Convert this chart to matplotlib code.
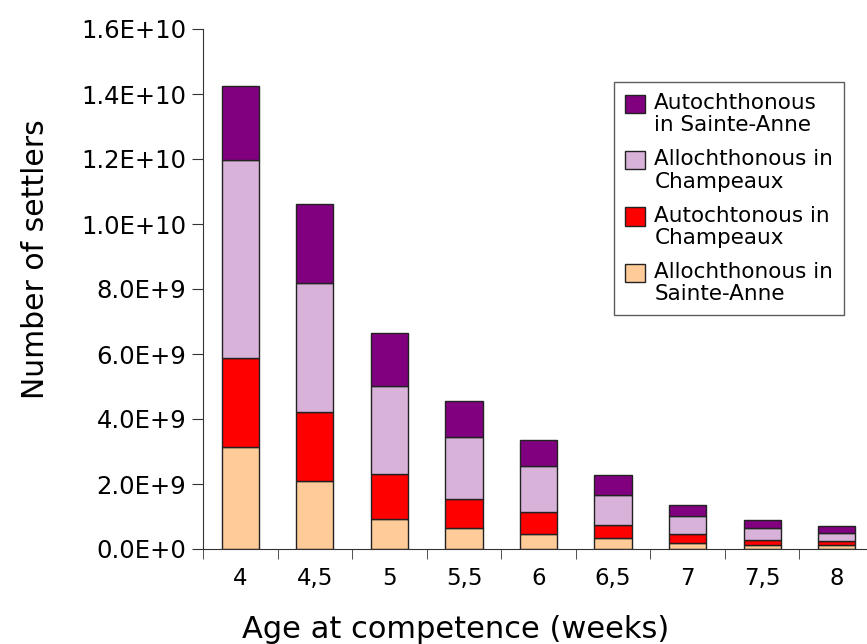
import numpy as np
import matplotlib.pyplot as plt
from matplotlib.ticker import FuncFormatter
from matplotlib.patches import Patch, Rectangle
from matplotlib.legend_handler import HandlerPatch

ages = ["4", "4,5", "5", "5,5", "6", "6,5", "7", "7,5", "8"]

# values in units of 1E9 settlers, stacked bottom to top
allo_sa = [3.14, 2.09, 0.92, 0.65, 0.46, 0.34, 0.19, 0.11, 0.11]
auto_ch = [2.74, 2.13, 1.39, 0.89, 0.68, 0.40, 0.26, 0.17, 0.13]
allo_ch = [6.09, 3.96, 2.71, 1.91, 1.41, 0.93, 0.57, 0.38, 0.26]
auto_sa = [2.28, 2.44, 1.63, 1.10, 0.80, 0.61, 0.34, 0.23, 0.21]

series = [
    (allo_sa, "#FFCC99", "Allochthonous in\nSainte-Anne"),
    (auto_ch, "#FF0000", "Autochtonous in\nChampeaux"),
    (allo_ch, "#D8B2D8", "Allochthonous in\nChampeaux"),
    (auto_sa, "#800080", "Autochthonous\nin Sainte-Anne"),
]
edge = "#222222"

fig = plt.figure(figsize=(8.67, 6.44), dpi=100)
ax = fig.add_axes([203 / 867, 95 / 644, 671 / 867, 520 / 644])

x = np.arange(len(ages))
bottom = np.zeros(len(ages))
for vals, col, lab in series:
    v = np.array(vals) * 1e9
    ax.bar(x, v, 0.5, bottom=bottom, color=col, edgecolor=edge, linewidth=1.0)
    bottom += v

ax.set_xlim(-0.5, len(ages) - 0.5)
ax.set_ylim(0, 1.6e10)
ax.set_yticks(np.arange(0, 1.61e10, 2e9))


def fmt(v, pos):
    if v == 0:
        return "0.0E+0"
    e = int(np.floor(np.log10(v) + 1e-9))
    return f"{v / 10**e:.1f}E+{e}"


ax.yaxis.set_major_formatter(FuncFormatter(fmt))
ax.set_xticks(x)
ax.set_xticklabels(ages)
ax.set_xticks(np.arange(-0.5, len(ages), 1), minor=True)
ax.tick_params(axis="x", which="major", length=0, labelsize=16.5, pad=13)
ax.tick_params(axis="x", which="minor", length=7, direction="out", color="#333333")
ax.tick_params(axis="y", length=8, labelsize=17.5, color="#333333", pad=4)

for s in ["top", "right"]:
    ax.spines[s].set_visible(False)
for s in ["left", "bottom"]:
    ax.spines[s].set_color("#333333")

ax.set_ylabel("Number of settlers", fontsize=21.5)
ax.yaxis.set_label_coords(-0.228, 0.558)
ax.set_xlabel("Age at competence (weeks)", fontsize=22)
ax.xaxis.set_label_coords(0.377, -0.126)


def top_box(legend, orig_handle, xdescent, ydescent, width, height, fontsize):
    # put the swatch next to the first line of a two-line label
    return Rectangle((-xdescent, -ydescent + 0.5 * fontsize), width, height)


proxies = [Patch(facecolor=c, edgecolor=edge, linewidth=1.0) for _, c, _ in series]
labels = [s[2] for s in series]
leg = ax.legend(proxies[::-1], labels[::-1],
                handler_map={Patch: HandlerPatch(patch_func=top_box)},
                loc="upper left", bbox_to_anchor=(614 / 867, 1 - 82 / 644),
                bbox_transform=fig.transFigure, fontsize=15.5, frameon=True,
                fancybox=False, edgecolor="#333333", handlelength=0.92,
                handleheight=0.92, handletextpad=0.45, labelspacing=0.65,
                borderpad=0.5, borderaxespad=0)
leg.get_frame().set_linewidth(1.0)
for t in leg.get_texts():
    t.set_linespacing(1.15)

fig.savefig("out.png", dpi=100)
